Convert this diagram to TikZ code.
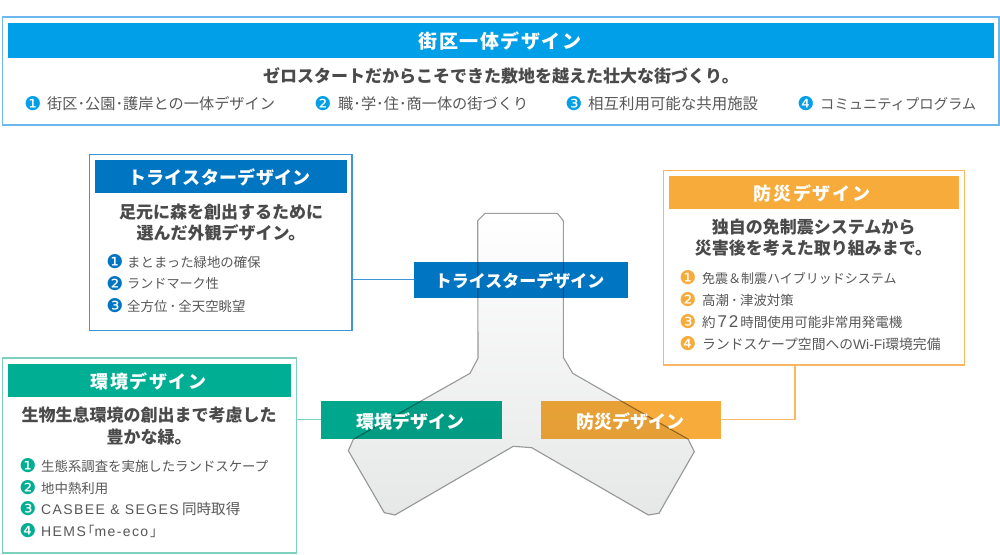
\documentclass[tikz,border=0pt]{standalone}
\usepackage{fontspec}
\setmainfont{Noto Sans CJK JP}
\newfontfamily\djv{DejaVu Sans}
\newfontfamily\libsp[LetterSpace=10]{Liberation Sans}
\newfontfamily\libpl{Liberation Sans}
\definecolor{skyc}{HTML}{009FE8}
\definecolor{skyl}{HTML}{6CB8EE}
\definecolor{bluec}{HTML}{0075C2}
\definecolor{bluel}{HTML}{3D97D6}
\definecolor{greenc}{HTML}{00AE93}
\definecolor{greenl}{HTML}{7DD0BD}
\definecolor{orc}{HTML}{F6AB3A}
\definecolor{orl}{HTML}{F9B766}
\definecolor{txtb}{HTML}{4A4A4A}
\definecolor{txtr}{HTML}{595757}
\definecolor{ygrey}{HTML}{E6E7E7}
\newcommand\fsz[1]{\fontsize{#1pt}{#1pt}\selectfont}
\newcommand\ttl[3]{\fsz{#1}\bfseries\addfontfeature{LetterSpace=#2}#3}
\newcommand\bul[1]{{\djv\fsz{19}#1}}
\newcommand\dt{\hspace{2.2pt}･\hspace{2.2pt}}
\tikzset{x=1pt,y=-1pt,
  panelbox/.style={draw=#1,line width=1.2pt,fill=white,inner sep=0pt},
  barbox/.style={fill=#1,inner sep=0pt},
  lbl/.style={inner sep=0pt,text=white},
  subt/.style={inner sep=0pt,text=txtb,align=center,font=\fsz{17}\bfseries},
  itemt/.style={inner sep=0pt,anchor=west,text=txtr,font=\fsz{13.4}},
  itemb/.style={inner sep=0pt,anchor=west,text=txtr,font=\fsz{15.2}},
  bulm/.style={inner sep=0pt,text=#1},
  conn/.style={draw=#1,line width=1.2pt},
}
\begin{document}
\begin{tikzpicture}
\useasboundingbox (0,0) rectangle (1000,554);
\fill[white] (0,0) rectangle (1000,554);
% panels
\node[panelbox=skyl,minimum width=996.5pt,minimum height=108pt] (p0) at (500.75,71) {};
\node[barbox=skyc,minimum width=985.5pt,minimum height=35pt] (b0) at (500.75,40) {};
\node[panelbox=bluel,minimum width=262.5pt,minimum height=176pt] (p1) at (220.75,242.3) {};
\node[barbox=bluec,minimum width=252.5pt,minimum height=33.5pt] (b1) at (220.75,176.25) {};
\node[panelbox=orl,minimum width=301pt,minimum height=194.3pt] (p2) at (813.8,267.85) {};
\node[barbox=orc,minimum width=290pt,minimum height=33pt] (b2) at (814,192.5) {};
\node[panelbox=greenl,minimum width=294pt,minimum height=195pt] (p3) at (149.5,455.5) {};
\node[barbox=greenc,minimum width=283.5pt,minimum height=33.5pt] (b3) at (149.25,380.25) {};
% centre label boxes
\node[barbox=bluec,minimum width=214pt,minimum height=36pt] (c1) at (521.3,279.7) {};
\node[barbox={greenc!96!black},minimum width=180.7pt,minimum height=37.7pt] (c3) at (411.35,419.85) {};
\node[barbox=orc,minimum width=180.3pt,minimum height=37.7pt] (c2) at (631.15,419.85) {};
% connectors
\coordinate (k2) at (795,365);
\draw[conn=bluel] (p1.east |- c1.west) -- (c1.west);
\draw[conn=greenl] (p3.east |- c3.west) -- (c3.west);
\draw[conn=orl] (c2.east) -| (k2);
% Y shape
\begin{scope}[blend mode=multiply]
\draw[draw=black!38,line width=1.1pt,top color=white,bottom color=ygrey]
 (477.7,220.7) -- (485,213.3) -- (557.3,213.3) -- (563.3,220.7) -- (563.3,357.3) -- (572.7,373.3)
 -- (688.3,439.3) -- (694.3,451.7) -- (659,513.3) -- (648.3,515) -- (531.7,447.7) -- (513.3,446.3)
 -- (395,515) -- (384.3,512.7) -- (348.3,450.7) -- (353.3,439.3) -- (470,373.3) -- (478,358.3) -- cycle;
\end{scope}
% titles
\node[lbl] (t0) at (500,41) {\ttl{19}{8}{街区一体デザイン}};
\node[lbl] (t1) at (219.5,177) {\ttl{18}{2}{トライスターデザイン}};
\node[lbl] (t2) at (812,193) {\ttl{18}{9}{防災デザイン}};
\node[lbl] (t3) at (148.5,381) {\ttl{18}{9}{環境デザイン}};
\node[lbl] (l1) at (519.5,280.5) {\ttl{17}{0}{トライスターデザイン}};
\node[lbl] (l3) at (410.5,421) {\ttl{18}{1}{環境デザイン}};
\node[lbl] (l2) at (630.5,421) {\ttl{18}{1}{防災デザイン}};
% subtitles
\node[subt] (s0) at (501,76) {ゼロスタートだからこそできた敷地を越えた壮大な街づくり。};
\node[subt] (s1a) at (221,212) {足元に森を創出するために};
\node[subt] (s1b) at (221,233) {選んだ外観デザイン。};
\node[subt] (s2a) at (813.5,227) {独自の免制震システムから};
\node[subt] (s2b) at (813.5,248) {災害後を考えた取り組みまで。};
\node[subt] (s3a) at (149,415) {生物生息環境の創出まで考慮した};
\node[subt] (s3b) at (149,437) {豊かな緑。};
% top list
\node[bulm=skyc] (m01) at (33,104) {\bul{❶}};
\node[itemb] (i01) at (47,104) {街区･公園･護岸との一体デザイン};
\node[bulm=skyc] (m02) at (323,104) {\bul{❷}};
\node[itemb] (i02) at (338,104) {職･学･住･商一体の街づくり};
\node[bulm=skyc] (m03) at (574,104) {\bul{❸}};
\node[itemb,font=\fsz{15.45}] (i03) at (588,104) {相互利用可能な共用施設};
\node[bulm=skyc] (m04) at (806,104) {\bul{❹}};
\node[itemb,font=\fsz{14.3}] (i04) at (820,104) {コミュニティプログラム};
% tristar list
\node[bulm=bluec] (m11) at (115,262) {\bul{❶}};
\node[itemt] (i11) at (127,262) {まとまった緑地の確保};
\node[bulm=bluec] (m12) at (115,284) {\bul{❷}};
\node[itemt,font=\fsz{13.1}] (i12) at (127,284) {ランドマーク性};
\node[bulm=bluec] (m13) at (115,306) {\bul{❸}};
\node[itemt] (i13) at (127,306) {全方位\dt 全天空眺望};
% disaster list
\node[bulm=orc] (m21) at (688,278) {\bul{❶}};
\node[itemt,font=\fsz{13}] (i21) at (702,278) {免震＆制震ハイブリッドシステム};
\node[bulm=orc] (m22) at (688,300) {\bul{❷}};
\node[itemt] (i22) at (702,300) {高潮\dt 津波対策};
\node[bulm=orc] (m23) at (688,322) {\bul{❸}};
\node[itemt,font=\fsz{13.5}] (i23) at (702,322) {約\hspace{2pt}{\libsp\fsz{17}72}\hspace{2pt}時間使用可能非常用発電機};
\node[bulm=orc] (m24) at (688,344) {\bul{❹}};
\node[itemt,font=\fsz{13.8}] (i24) at (702,344) {ランドスケープ空間への{\libpl Wi-Fi}環境完備};
% environment list
\node[bulm=greenc] (m31) at (28,466) {\bul{❶}};
\node[itemt] (i31) at (41,466) {生態系調査を実施したランドスケープ};
\node[bulm=greenc] (m32) at (28,488) {\bul{❷}};
\node[itemt] (i32) at (41,488) {地中熱利用};
\node[bulm=greenc] (m33) at (28,509) {\bul{❸}};
\node[itemt,font=\fsz{14.6}] (i33) at (41,509) {{\libsp\fsz{14}CASBEE \& SEGES} 同時取得};
\node[bulm=greenc] (m34) at (28,531) {\bul{❹}};
\node[itemt] (i34) at (41,531) {{\libsp\fsz{14}HEMS}\hspace{2pt}｢{\libsp\fsz{14}me-eco}\hspace{2pt}｣};
\end{tikzpicture}
\end{document}
